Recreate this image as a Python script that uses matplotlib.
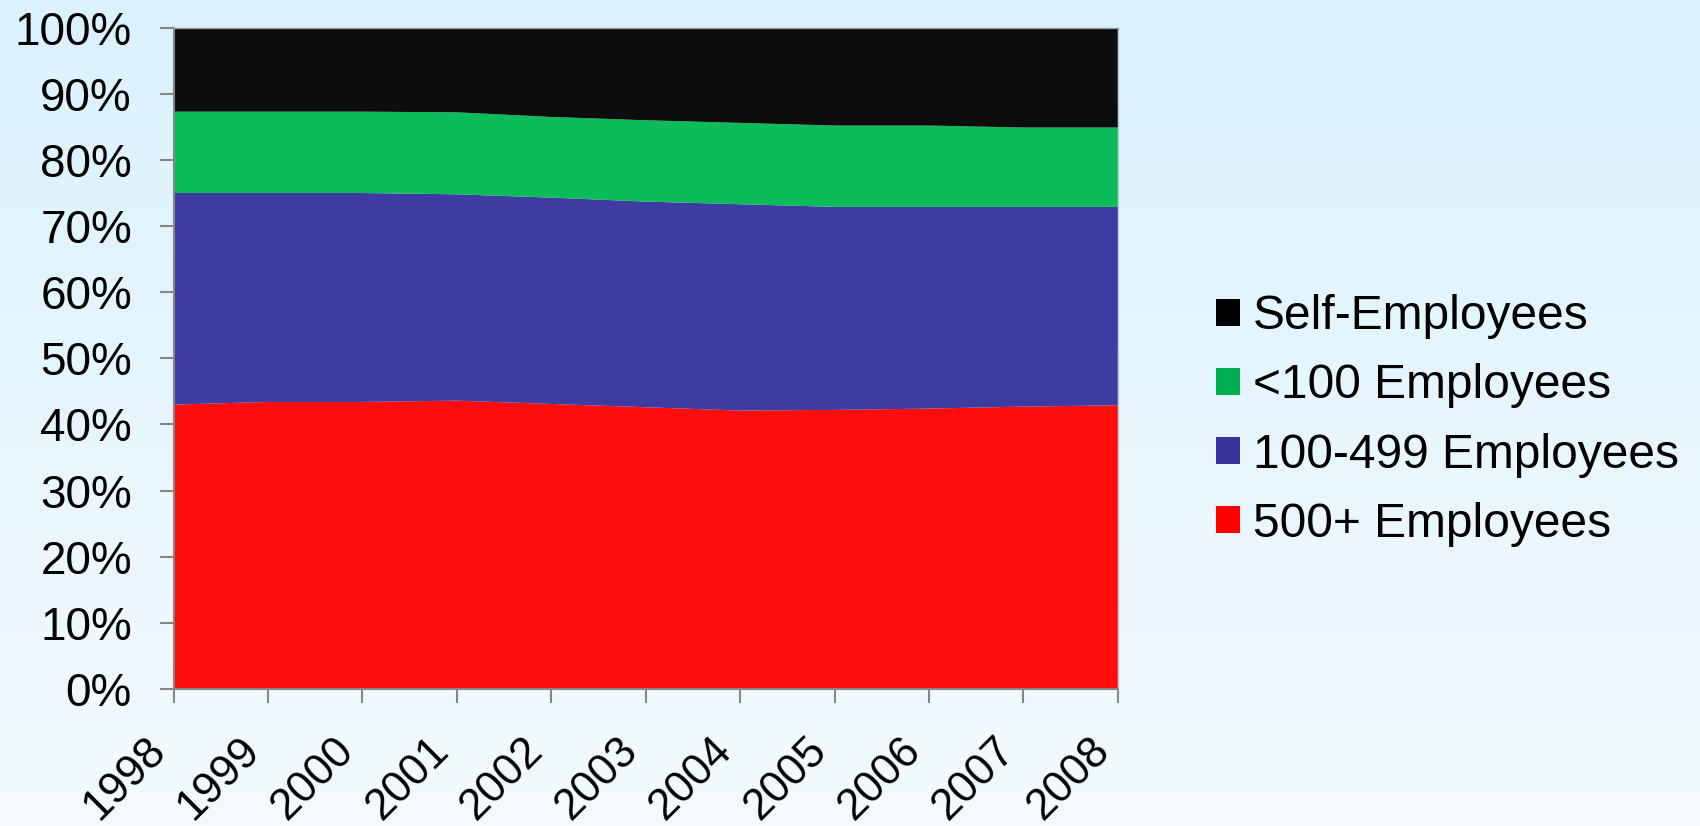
#!/usr/bin/env python3

'''100% stacked area chart of employment share by firm size, 1998-2008.'''

import numpy as np
import matplotlib
matplotlib.use('Agg')
import matplotlib.pyplot as plt
import matplotlib.ticker as ticker
import matplotlib.transforms as mtrans
from matplotlib.patches import Patch


YEARS = [1998, 1999, 2000, 2001, 2002, 2003, 2004, 2005, 2006, 2007, 2008]

# shares in percent, bottom to top
EMP_500_PLUS = [43.0, 43.4, 43.4, 43.6, 43.1, 42.6, 42.1, 42.2, 42.4, 42.7, 42.9]
EMP_100_499 = [32.0, 31.6, 31.6, 31.2, 31.2, 31.1, 31.2, 30.7, 30.5, 30.2, 30.0]
EMP_UNDER_100 = [12.3, 12.3, 12.3, 12.4, 12.2, 12.3, 12.3, 12.3, 12.3, 12.0, 12.0]
SELF_EMP = [12.7, 12.7, 12.7, 12.8, 13.5, 14.0, 14.4, 14.8, 14.8, 15.1, 15.1]

LABELS = ['500+ Employees', '100-499 Employees', '<100 Employees', 'Self-Employees']
FILL_COLORS = ['#ff0c0c', '#3e3ca3', '#0cbc5a', '#0d0d0d']
LEGEND_COLORS = ['#ff0000', '#38349a', '#00b050', '#000000']

FONT = 'Liberation Sans'
Y_FS = 33
X_FS = 31.5
LEG_FS = 34.5
TICK_COLOR = '#868686'


def draw_background(fig):
    '''Vertical light blue gradient behind everything.'''
    bg = fig.add_axes([0, 0, 1, 1], zorder=-10)
    top = np.array([0xda, 0xf2, 0xfe]) / 255
    bot = np.array([0xf4, 0xfa, 0xfd]) / 255
    t = np.linspace(0, 1, 256)[:, None]
    grad = top * (1 - t[..., None]) + bot * t[..., None]
    grad = np.repeat(grad, 2, axis=1)
    bg.imshow(grad, aspect='auto', extent=[0, 1, 0, 1])
    bg.axis('off')


def format_axis(fig, axis):
    '''Ticks, limits and spines.'''
    axis.set_xlim(YEARS[0], YEARS[-1])
    axis.set_ylim(0, 100)
    axis.set_xticks(YEARS)
    axis.set_xticklabels([str(y) for y in YEARS], rotation=45, ha='right',
                         fontsize=X_FS, family=FONT)
    # nudge rotated labels a little to the right, like the original
    shift = mtrans.ScaledTranslation(7 / 100, 0, fig.dpi_scale_trans)
    for lab in axis.get_xticklabels():
        lab.set_transform(lab.get_transform() + shift)
    axis.yaxis.set_major_locator(ticker.MultipleLocator(10))
    axis.yaxis.set_major_formatter(ticker.FuncFormatter(lambda v, _: '%d%%' % v))
    for lab in axis.get_yticklabels():
        lab.set_fontsize(Y_FS)
        lab.set_family(FONT)
    axis.tick_params(axis='x', length=10, width=1.5, color=TICK_COLOR, pad=19)
    axis.tick_params(axis='y', length=10, width=1.5, color=TICK_COLOR, pad=20)
    for side in ('left', 'bottom'):
        axis.spines[side].set_color(TICK_COLOR)
        axis.spines[side].set_linewidth(1.5)
    axis.spines['top'].set_color('#9a9a9a')
    axis.spines['top'].set_linewidth(1)
    axis.spines['right'].set_color('#b8cce4')
    axis.spines['right'].set_linewidth(1)
    axis.set_facecolor('none')


def main():
    fig = plt.figure(figsize=(17, 8.26), dpi=100)
    draw_background(fig)
    axis = fig.add_axes([0.1021, 0.1659, 0.5555, 0.8006])

    series = [EMP_500_PLUS, EMP_100_499, EMP_UNDER_100, SELF_EMP]
    axis.stackplot(YEARS, series, colors=FILL_COLORS, linewidth=0)
    format_axis(fig, axis)

    handles = [Patch(facecolor=c, edgecolor='none') for c in LEGEND_COLORS]
    axis.legend(handles[::-1], LABELS[::-1], loc='center left',
                bbox_to_anchor=(1216 / 1700, 1 - 420.5 / 826),
                bbox_transform=fig.transFigure, frameon=False,
                prop={'family': FONT, 'size': LEG_FS},
                handlelength=0.5, handleheight=0.5,
                handletextpad=0.27, labelspacing=0.505,
                borderpad=0, borderaxespad=0)

    fig.savefig('out.png', dpi=100)


if __name__ == '__main__':
    main()
